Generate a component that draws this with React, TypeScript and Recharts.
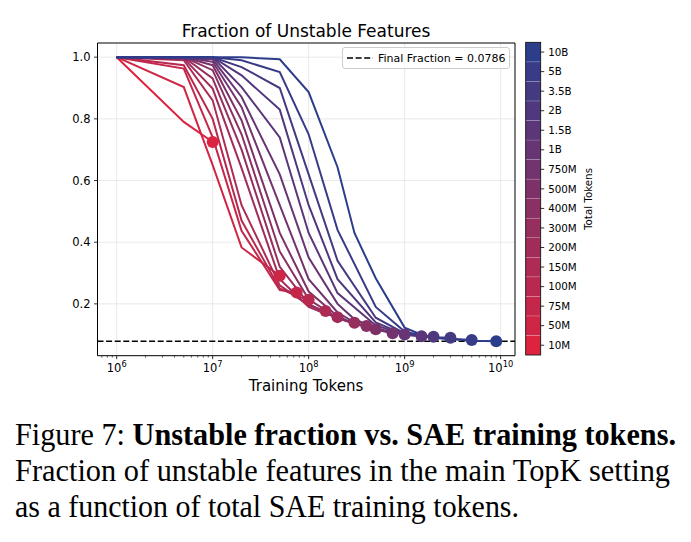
import React from 'react';
import {
  ComposedChart,
  Line,
  Scatter,
  XAxis,
  YAxis,
  CartesianGrid,
  ReferenceLine,
  ReferenceArea,
} from 'recharts';

// Total training tokens of each run (colour bar labels, bottom to top)
const runLabels = ['10M', '50M', '75M', '100M', '150M', '200M', '300M', '400M', '500M', '750M', '1B', '1.5B', '2B', '3.5B', '5B', '10B'];

// Checkpoints (training tokens) evaluated for each run
const stepsByRun: number[][] = [
  [1e6, 5e6, 1e7],
  [1e6, 5e6, 1e7, 2e7, 5e7],
  [1e6, 5e6, 1e7, 2e7, 5e7, 7.5e7],
  [1e6, 5e6, 1e7, 2e7, 5e7, 7.5e7, 1e8],
  [1e6, 5e6, 1e7, 2e7, 5e7, 1e8, 1.5e8],
  [1e6, 5e6, 1e7, 2e7, 5e7, 1e8, 1.5e8, 2e8],
  [1e6, 5e6, 1e7, 2e7, 5e7, 1e8, 2e8, 3e8],
  [1e6, 5e6, 1e7, 2e7, 5e7, 1e8, 2e8, 3e8, 4e8],
  [1e6, 5e6, 1e7, 2e7, 5e7, 1e8, 2e8, 3e8, 5e8],
  [1e6, 5e6, 1e7, 2e7, 5e7, 1e8, 2e8, 3e8, 5e8, 7.5e8],
  [1e6, 1e7, 2e7, 5e7, 1e8, 2e8, 3e8, 5e8, 1e9],
  [1e6, 1e7, 2e7, 5e7, 1e8, 2e8, 5e8, 1e9, 1.5e9],
  [1e6, 1e7, 2e7, 5e7, 1e8, 2e8, 5e8, 1e9, 2e9],
  [1e6, 1e7, 2e7, 5e7, 1e8, 2e8, 5e8, 1e9, 2e9, 3e9],
  [1e6, 1e7, 2e7, 5e7, 1e8, 2e8, 5e8, 1e9, 2e9, 5e9],
  [1e6, 1e7, 2e7, 5e7, 1e8, 2e8, 3e8, 5e8, 1e9, 1.5e9, 2e9, 5e9, 9e9],
];

// Fraction of unstable features at each checkpoint
const fractionByRun: number[][] = [
  [1.0, 0.79, 0.725],
  [1.0, 0.903, 0.65, 0.383, 0.291],
  [1.0, 0.963, 0.74, 0.437, 0.245, 0.237],
  [1.0, 0.974, 0.8, 0.47, 0.25, 0.225, 0.213],
  [1.0, 0.99, 0.86, 0.52, 0.26, 0.195, 0.177],
  [1.0, 0.996, 0.898, 0.64, 0.28, 0.19, 0.168, 0.157],
  [1.0, 1.0, 0.931, 0.7, 0.32, 0.2, 0.152, 0.139],
  [1.0, 1.0, 0.958, 0.75, 0.37, 0.215, 0.155, 0.135, 0.128],
  [1.0, 1.0, 0.974, 0.795, 0.43, 0.24, 0.16, 0.135, 0.118],
  [1.0, 1.0, 0.985, 0.838, 0.52, 0.28, 0.172, 0.14, 0.117, 0.105],
  [1.0, 0.993, 0.871, 0.62, 0.35, 0.2, 0.15, 0.12, 0.101],
  [1.0, 1.0, 0.903, 0.74, 0.43, 0.235, 0.13, 0.1, 0.095],
  [1.0, 1.0, 0.941, 0.83, 0.52, 0.28, 0.14, 0.1, 0.093],
  [1.0, 1.0, 0.968, 0.9, 0.62, 0.34, 0.155, 0.104, 0.092, 0.09],
  [1.0, 1.0, 0.99, 0.952, 0.75, 0.44, 0.19, 0.11, 0.09, 0.083],
  [1.0, 1.0, 1.0, 0.993, 0.887, 0.643, 0.43, 0.283, 0.123, 0.1, 0.09, 0.08, 0.079],
];

const finalFraction = 0.0786;

const xMajorTicks = [1e6, 1e7, 1e8, 1e9, 1e10];
const xMinorTicks = [
  7e5, 8e5, 9e5,
  2e6, 3e6, 4e6, 5e6, 6e6, 7e6, 8e6, 9e6,
  2e7, 3e7, 4e7, 5e7, 6e7, 7e7, 8e7, 9e7,
  2e8, 3e8, 4e8, 5e8, 6e8, 7e8, 8e8, 9e8,
  2e9, 3e9, 4e9, 5e9, 6e9, 7e9, 8e9, 9e9,
];
const yTicks = [0.2, 0.4, 0.6, 0.8, 1.0];
const yTickLabels = ['0.2', '0.4', '0.6', '0.8', '1.0'];

const xDomain: [number, number] = [Math.pow(10, 5.8), Math.pow(10, 10.15)];
const yDomain: [number, number] = [0.0319, 1.046];

// colour map: crimson (small runs) -> navy (large runs)
const cLow = [220, 36, 64];
const cHigh = [44, 61, 140];
const mix = (t: number) => {
  const c = cLow.map((v, k) => Math.round(v + (cHigh[k] - v) * t));
  return `rgb(${c[0]},${c[1]},${c[2]})`;
};
const runColors = runLabels.map((_, i) => mix(i / (runLabels.length - 1)));

const series = stepsByRun.map((steps, i) =>
  steps.map((x, j) => ({ x, y: fractionByRun[i][j] }))
);
const endpoints = series.map((pts, i) => ({ ...pts[pts.length - 1], color: runColors[i] }));

const FONT = 'DejaVu Sans';
const TICK_FONT = 11.5;

const XTick = (props: any) => {
  const { x, y, payload } = props;
  const v = payload.value as number;
  const exp = Math.round(Math.log10(v));
  const isMajor = Math.abs(v - Math.pow(10, exp)) < 1e-6 * v;
  return (
    <g>
      <line x1={x} x2={x} y1={y} y2={y + (isMajor ? 3.5 : 2)} stroke="#000" strokeWidth={isMajor ? 0.8 : 0.6} />
      {isMajor && (
        <text x={x} y={y + 16.5} textAnchor="middle" fontSize={TICK_FONT} fontFamily={FONT} fill="#000">
          <tspan>10</tspan>
          <tspan dy={-5} fontSize={8.3}>{exp}</tspan>
        </text>
      )}
    </g>
  );
};

const YTick = (props: any) => {
  const { x, y, payload, index } = props;
  return (
    <g>
      <line x1={x - 3.5} x2={x} y1={y} y2={y} stroke="#000" strokeWidth={0.8} />
      <text x={x - 7} y={y + 4} textAnchor="end" fontSize={TICK_FONT} fontFamily={FONT} fill="#000">
        {yTickLabels[index] ?? String(payload.value)}
      </text>
    </g>
  );
};

const Dot = (props: any) => {
  const { cx, cy, payload } = props;
  return <circle cx={cx} cy={cy} r={6} fill={payload.color} />;
};

// colour bar geometry
const cbX = 525.7;
const cbW = 15;
const cbTop = 42.3;
const cbBottom = 355;

const captionFont = 'Liberation Serif';

export default function App() {
  const segH = (cbBottom - cbTop) / runLabels.length;
  return (
    <div style={{ position: 'absolute', left: 0, top: 0, width: 691, height: 542, background: '#fff' }}>
      <div style={{ position: 'absolute', left: 0, top: 0 }}>
        <ComposedChart width={691} height={400} margin={{ top: 43, right: 176, bottom: 0, left: 0 }}>
          <CartesianGrid
            stroke="#e3e3e3"
            strokeWidth={0.8}
            verticalValues={xMajorTicks}
            horizontalValues={yTicks}
          />
          <XAxis
            dataKey="x"
            type="number"
            scale="log"
            domain={xDomain}
            allowDataOverflow
            ticks={[...xMajorTicks, ...xMinorTicks]}
            interval={0}
            tick={<XTick />}
            tickLine={false}
            tickSize={0}
            tickMargin={0}
            axisLine={false}
            height={44.3}
          />
          <YAxis
            type="number"
            domain={yDomain}
            allowDataOverflow
            ticks={yTicks}
            interval={0}
            tick={<YTick />}
            tickLine={false}
            tickSize={0}
            tickMargin={0}
            axisLine={false}
            width={97.5}
          />
          <ReferenceLine y={finalFraction} stroke="#000" strokeWidth={1.5} strokeDasharray="6 2.6" />
          {series.map((pts, i) => (
            <Line
              key={runLabels[i]}
              data={pts}
              dataKey="y"
              type="linear"
              stroke={runColors[i]}
              strokeWidth={2}
              dot={false}
              activeDot={false}
              isAnimationActive={false}
            />
          ))}
          <Scatter data={endpoints} dataKey="y" shape={<Dot />} isAnimationActive={false} />
          <ReferenceArea
            x1={xDomain[0]}
            x2={xDomain[1]}
            y1={yDomain[0]}
            y2={yDomain[1]}
            fill="none"
            stroke="#000"
            strokeWidth={1}
            ifOverflow="visible"
          />
        </ComposedChart>
      </div>
      <svg
        width={691}
        height={542}
        style={{ position: 'absolute', left: 0, top: 0, pointerEvents: 'none' }}
      >
        <text x={306} y={37} textAnchor="middle" fontSize={17} fontFamily={FONT} fill="#000">
          Fraction of Unstable Features
        </text>
        <text x={306} y={391} textAnchor="middle" fontSize={15} fontFamily={FONT} fill="#000">
          Training Tokens
        </text>

        {/* legend */}
        <rect x={342.5} y={47.5} width={167} height={21} rx={2.5} fill="#fff" fillOpacity={0.8} stroke="#cccccc" strokeWidth={1} />
        <line x1={347} x2={373} y1={58} y2={58} stroke="#000" strokeWidth={1.5} strokeDasharray="6 2.6" />
        <text x={378} y={62} fontSize={11} fontFamily={FONT} fill="#000">
          {`Final Fraction = ${finalFraction}`}
        </text>

        {/* colour bar */}
        {runLabels.map((lab, i) => {
          const y0 = cbBottom - (i + 1) * segH;
          return (
            <g key={lab}>
              <rect x={cbX} y={y0} width={cbW} height={segH} fill={runColors[i]} stroke="rgba(255,255,255,0.25)" strokeWidth={0.6} />
              <line x1={cbX + cbW} x2={cbX + cbW + 3.5} y1={y0 + segH / 2} y2={y0 + segH / 2} stroke="#000" strokeWidth={0.8} />
              <text x={cbX + cbW + 7.5} y={y0 + segH / 2 + 3.7} fontSize={10.3} fontFamily={FONT} fill="#000">
                {lab}
              </text>
            </g>
          );
        })}
        <rect x={cbX} y={cbTop} width={cbW} height={cbBottom - cbTop} fill="none" stroke="#000" strokeWidth={0.8} />
        <text
          x={0}
          y={0}
          transform={`translate(592, 199) rotate(-90)`}
          textAnchor="middle"
          fontSize={10.3}
          fontFamily={FONT}
          fill="#000"
        >
          Total Tokens
        </text>

        {/* caption */}
        <text x={15} y={445} fontSize={31} fontFamily={captionFont} fill="#000" textLength={661} lengthAdjust="spacingAndGlyphs">
          <tspan>Figure 7: </tspan>
          <tspan fontWeight="bold">Unstable fraction vs. SAE training tokens.</tspan>
        </text>
        <text x={15} y={481} fontSize={31} fontFamily={captionFont} fill="#000" textLength={655} lengthAdjust="spacingAndGlyphs">
          Fraction of unstable features in the main TopK setting
        </text>
        <text x={15} y={517} fontSize={31} fontFamily={captionFont} fill="#000" textLength={504} lengthAdjust="spacingAndGlyphs">
          as a function of total SAE training tokens.
        </text>
      </svg>
    </div>
  );
}
